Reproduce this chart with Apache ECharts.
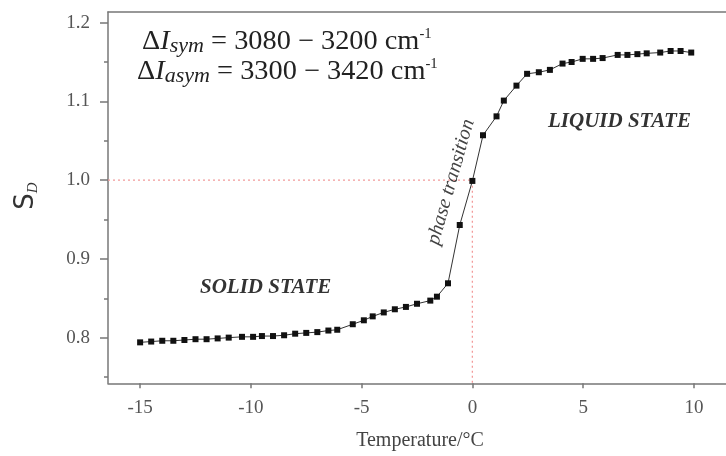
<!DOCTYPE html>
<html>
<head>
<meta charset="utf-8">
<script src="https://cdn.jsdelivr.net/npm/echarts@6/dist/echarts.min.js"></script>
<style>html,body{margin:0;padding:0;background:#fff}#c{width:726px;height:456px}</style>
</head>
<body>
<div id="c"></div>
<script>
// Data
const temperatures = [-15.0,-14.5,-14.0,-13.5,-13.0,-12.5,-12.0,-11.5,-11.0,-10.4,-9.9,-9.5,-9.0,-8.5,-8.0,-7.5,-7.0,-6.5,-6.1,-5.4,-4.9,-4.5,-4.0,-3.5,-3.0,-2.5,-1.9,-1.6,-1.1,-0.57,0.0,0.48,1.09,1.42,1.99,2.47,3.0,3.5,4.07,4.48,4.98,5.45,5.88,6.56,7.0,7.45,7.87,8.48,8.95,9.4,9.88];
const sdValues = [0.794,0.795,0.796,0.796,0.797,0.798,0.798,0.799,0.800,0.801,0.801,0.802,0.802,0.803,0.805,0.806,0.807,0.809,0.810,0.817,0.822,0.827,0.832,0.836,0.839,0.843,0.847,0.852,0.869,0.943,0.999,1.057,1.081,1.101,1.120,1.135,1.137,1.140,1.148,1.150,1.154,1.154,1.155,1.159,1.159,1.160,1.161,1.162,1.164,1.164,1.162];
const xTickValues = [-15,-10,-5,0,5,10];
const yTickValues = [0.8,0.9,1.0,1.1,1.2];
const yMinorValues = [0.75,0.85,0.95,1.05,1.15];
const xRange = [-16.45, 11.45];
const yRange = [0.742, 1.2135];
const refPoint = [0, 1.0];

const serif = '"Liberation Serif","DejaVu Serif",serif';
const axisGray = '#777';
const labelGray = '#555';

const chart = echarts.init(document.getElementById('c'), null, {renderer:'canvas'});
const seriesData = temperatures.map((t,i)=>[t, sdValues[i]]);

const formulaRich = {
  a:{fontFamily:serif, fontSize:27, fill:'#222', lineHeight:30},
  i:{fontFamily:serif, fontSize:27, fontStyle:'italic', fill:'#222', lineHeight:30},
  s:{fontFamily:serif, fontSize:21, fontStyle:'italic', fill:'#222', lineHeight:22, verticalAlign:'bottom', padding:[12,0,0,0]},
  p:{fontFamily:serif, fontSize:14, fill:'#222', lineHeight:14, verticalAlign:'top', padding:[0,0,12,0]}
};

chart.setOption({
  animation:false,
  backgroundColor:'#fff',
  grid:{left:108, top:12, right:0, bottom:72.7, containLabel:false},
  xAxis:[{
    type:'value', min:xRange[0], max:xRange[1], position:'bottom',
    axisLine:{show:true, onZero:false, lineStyle:{color:axisGray, width:1.5}},
    axisTick:{show:true, length:5, customValues:xTickValues, lineStyle:{color:axisGray, width:1.5}},
    axisLabel:{customValues:xTickValues, margin:15, color:labelGray, fontFamily:serif, fontSize:19},
    splitLine:{show:false}
  },{
    type:'value', min:xRange[0], max:xRange[1], position:'top',
    axisLine:{show:true, onZero:false, lineStyle:{color:axisGray, width:1.5}},
    axisTick:{show:false}, axisLabel:{show:false}, splitLine:{show:false}
  }],
  yAxis:[{
    type:'value', min:yRange[0], max:yRange[1], position:'left',
    axisLine:{show:true, onZero:false, lineStyle:{color:axisGray, width:1.5}},
    axisTick:{show:true, length:8, customValues:yTickValues, lineStyle:{color:axisGray, width:1.5}},
    axisLabel:{customValues:yTickValues, margin:18, color:labelGray, fontFamily:serif, fontSize:19,
      formatter:v=>v.toFixed(1)},
    splitLine:{show:false}
  },{
    type:'value', min:yRange[0], max:yRange[1], position:'left',
    axisLine:{show:false, onZero:false},
    axisTick:{show:true, length:4, customValues:yMinorValues, lineStyle:{color:axisGray, width:1.5}},
    axisLabel:{show:false}, splitLine:{show:false}
  }],
  series:[{
    type:'line', xAxisIndex:0, yAxisIndex:0,
    data:[[xRange[0], refPoint[1]], refPoint, [refPoint[0], yRange[0]]],
    symbol:'none', z:1,
    lineStyle:{color:'#f29a9a', width:1.3, type:[2,3]}
  },{
    type:'line', xAxisIndex:0, yAxisIndex:0,
    data:seriesData,
    symbol:'rect', symbolSize:6, z:3,
    itemStyle:{color:'#111'},
    lineStyle:{color:'#333', width:1}
  }],
  graphic:[
    {type:'text', x:142, y:42, scaleX:1.05, style:{
      text:'{a|Δ}{i|I}{s|sym}{a| = 3080 − 3200 cm}{p|-1}', verticalAlign:'middle', rich:formulaRich}},
    {type:'text', x:137, y:72, scaleX:1.05, style:{
      text:'{a|Δ}{i|I}{s|asym}{a| = 3300 − 3420 cm}{p|-1}', verticalAlign:'middle', rich:formulaRich}},
    {type:'text', x:200, y:288, style:{text:'SOLID STATE', fontFamily:serif, fontSize:21, fontWeight:'bold', fontStyle:'italic', fill:'#333', verticalAlign:'middle'}},
    {type:'text', x:548, y:122, style:{text:'LIQUID STATE', fontFamily:serif, fontSize:21, fontWeight:'bold', fontStyle:'italic', fill:'#333', verticalAlign:'middle'}},
    {type:'text', x:451, y:182, rotation:74*Math.PI/180, style:{text:'phase transition', fontFamily:serif, fontSize:20, fontStyle:'italic', fill:'#444', align:'center', verticalAlign:'middle'}},
    {type:'text', x:26, y:196, rotation:Math.PI/2, style:{
      text:'{s|S}{d|D}', align:'center', verticalAlign:'middle',
      rich:{
        s:{fontFamily:'"DejaVu Sans",sans-serif', fontSize:26, fill:'#333', lineHeight:30},
        d:{fontFamily:serif, fontSize:15, fontStyle:'italic', fill:'#333', lineHeight:20, verticalAlign:'bottom', padding:[8,0,0,0]}
      }}},
    {type:'text', x:420, y:441, style:{text:'Temperature/°C', fontFamily:serif, fontSize:20, fill:'#444', align:'center', verticalAlign:'middle'}}
  ]
});
</script>
</body>
</html>
